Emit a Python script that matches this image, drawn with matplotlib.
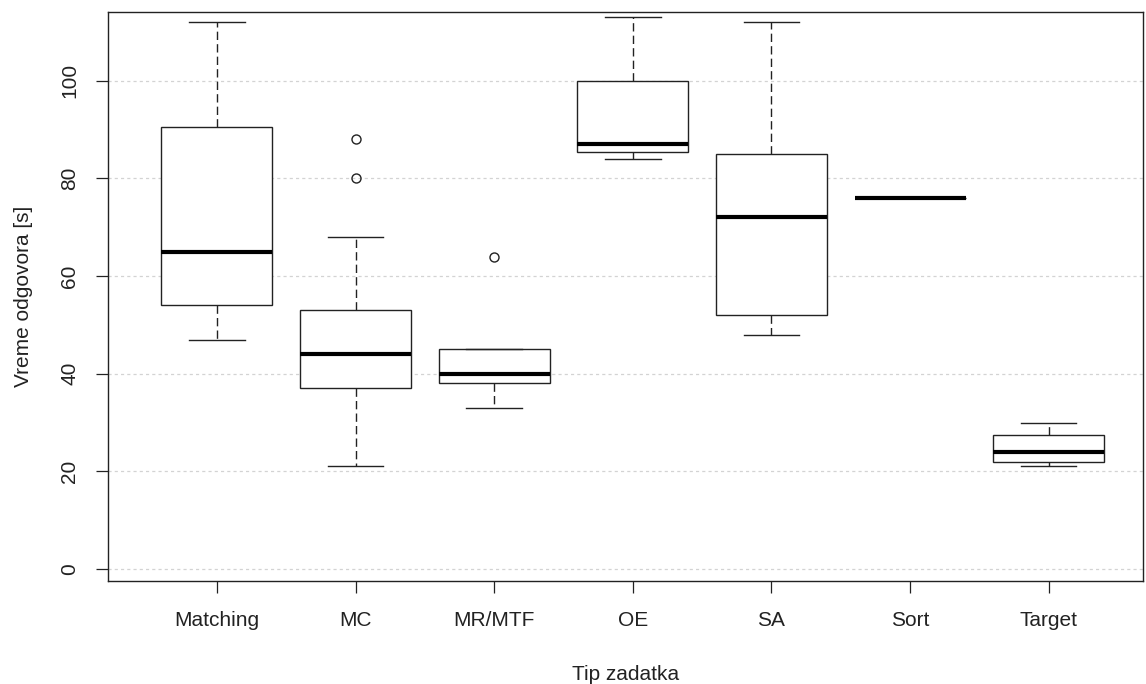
import matplotlib
matplotlib.use('Agg')
import matplotlib.pyplot as plt

# categories and five-number summaries
categories = ['Matching', 'MC', 'MR/MTF', 'OE', 'SA', 'Sort', 'Target']
whisker_low = [47, 21, 33, 84, 48, 76, 21]
q1 = [54, 37, 38, 85.5, 52, 76, 22]
medians = [65, 44, 40, 87, 72, 76, 24]
q3 = [90.5, 53, 45, 100, 85, 76, 27.5]
whisker_high = [112, 68, 45, 113, 112, 76, 30]
outliers = [[], [80, 88], [64], [], [], [], []]

y_ticks = [0, 20, 40, 60, 80, 100]

plt.rcParams['font.family'] = ['Liberation Sans', 'DejaVu Sans']

fig = plt.figure(figsize=(11.46, 6.84), dpi=100)
ax = fig.add_axes([0.0942, 0.1506, 0.9032, 0.8319])

stats = []
for i, name in enumerate(categories):
    stats.append({
        'label': name,
        'whislo': whisker_low[i],
        'q1': q1[i],
        'med': medians[i],
        'q3': q3[i],
        'whishi': whisker_high[i],
        'fliers': outliers[i],
    })

ax.bxp(stats, positions=range(1, len(categories) + 1), widths=0.8,
       patch_artist=True, showfliers=True,
       boxprops=dict(facecolor='white', edgecolor='#222222', linewidth=1.0, zorder=2),
       medianprops=dict(color='black', linewidth=3.0, solid_capstyle='butt', zorder=3),
       whiskerprops=dict(color='#222222', linewidth=1.0, linestyle=(0, (6, 3)), zorder=2),
       capprops=dict(color='#222222', linewidth=1.0, zorder=2),
       capwidths=0.4,
       flierprops=dict(marker='o', markersize=6.5, markerfacecolor='none',
                       markeredgecolor='#222222', markeredgewidth=1.0))

for y in y_ticks:
    ax.axhline(y, color='#d3d3d3', linestyle=(0, (2.5, 2.5)), linewidth=0.9, zorder=0)

ax.set_xlim(0.214, 7.68)
ax.set_ylim(-2.46, 114.1)
ax.set_yticks(y_ticks)
ax.set_yticklabels([str(v) for v in y_ticks], rotation=90, va='center')
ax.set_xticks(range(1, len(categories) + 1))
ax.set_xticklabels(categories)
ax.tick_params(axis='both', direction='out', length=8.5, width=0.9,
               labelsize=15, colors='#222222', labelcolor='#222222')
ax.tick_params(axis='x', pad=13)
ax.tick_params(axis='y', pad=12)
for s in ax.spines.values():
    s.set_linewidth(1.0)
    s.set_color('#222222')

ax.set_xlabel('Tip zadatka', fontsize=15, color='#222222', labelpad=25)
ax.set_ylabel('Vreme odgovora [s]', fontsize=15, color='#222222', labelpad=20)

fig.savefig('out.png', dpi=100)
